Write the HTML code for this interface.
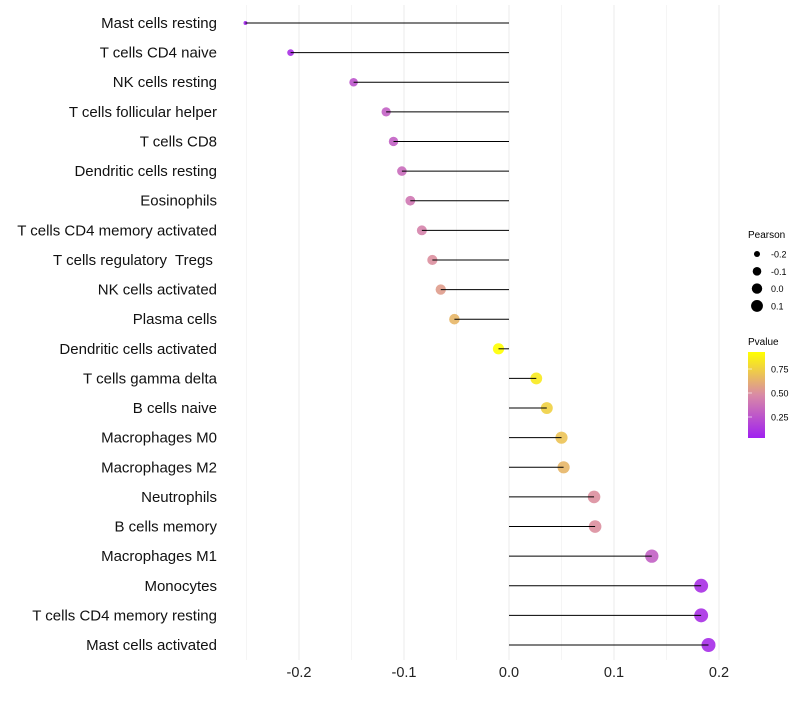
<!DOCTYPE html>
<html><head><meta charset="utf-8"><style>
body{margin:0;background:#fff;font-family:"Liberation Sans",sans-serif}
svg text{font-family:"Liberation Sans",sans-serif;white-space:pre}
</style></head><body>
<svg id="c" width="800" height="700" xmlns="http://www.w3.org/2000/svg">
<defs><linearGradient id="pg" x1="0" y1="1" x2="0" y2="0">
<stop offset="0" stop-color="#a020f0"/><stop offset="0.5" stop-color="#d98aa6"/><stop offset="1" stop-color="#ffff00"/>
</linearGradient></defs>
<g id="grid"></g><g id="marks"></g><g id="stems"></g><g id="labels"></g>
<g>
<text x="748" y="238" font-size="10">Pearson</text>
<g id="sizeleg"></g>
<text x="748" y="345" font-size="10">Pvalue</text>
<rect x="748" y="352" width="17" height="86" fill="url(#pg)"/>
<g id="colleg"></g>
</g>
</svg>
<script>
const categories=["Mast cells resting","T cells CD4 naive","NK cells resting","T cells follicular helper","T cells CD8","Dendritic cells resting","Eosinophils","T cells CD4 memory activated","T cells regulatory  Tregs ","NK cells activated","Plasma cells","Dendritic cells activated","T cells gamma delta","B cells naive","Macrophages M0","Macrophages M2","Neutrophils","B cells memory","Macrophages M1","Monocytes","T cells CD4 memory resting","Mast cells activated"];
const pearson=[-0.251,-0.208,-0.148,-0.117,-0.110,-0.102,-0.094,-0.083,-0.073,-0.065,-0.052,-0.010,0.026,0.036,0.050,0.052,0.081,0.082,0.136,0.183,0.183,0.190];
const pvalue=[0.05,0.1,0.25,0.3,0.3,0.35,0.4,0.45,0.5,0.55,0.65,0.95,0.85,0.75,0.7,0.65,0.5,0.5,0.3,0.1,0.1,0.08];
const xTicks=[-0.2,-0.1,0.0,0.1,0.2];
const xTickLabels=["-0.2","-0.1","0.0","0.1","0.2"];
const sizeLegend=[-0.2,-0.1,0.0,0.1];
const colorLegend=[0.25,0.5,0.75];
const NS="http://www.w3.org/2000/svg";
const x=v=>509+v*1050;
const y=i=>23+i*(622/21);
const r=p=>1.7+5.3*Math.sqrt(Math.max(0,(p+0.252)/0.442));
function lerp(a,b,t){return a.map((v,i)=>Math.round(v+(b[i]-v)*t));}
function col(p){const A=[160,32,240],B=[217,138,166],C=[255,255,0];const t=(p-0.03)/0.9;const c=t<0.5?lerp(A,B,Math.max(0,t)/0.5):lerp(B,C,Math.min(1,(t-0.5)/0.5));return `rgb(${c})`;}
function mk(tag,at,par){const e=document.createElementNS(NS,tag);for(const k in at)e.setAttribute(k,at[k]);document.getElementById(par).appendChild(e);return e;}
const grid=[-0.25,-0.2,-0.15,-0.1,-0.05,0,0.05,0.1,0.15,0.2];
grid.forEach(g=>{const l=mk('line',{x1:x(g),x2:x(g),y1:5,y2:660,stroke:'#ebebeb','stroke-width':Math.abs(g*10-Math.round(g*10))<1e-6?1:0.5},'grid');

});
xTicks.forEach((t,i)=>{const e=mk('text',{x:x(t),y:677,'font-size':14.5,'text-anchor':'middle',fill:'#222'},'labels');e.textContent=xTickLabels[i];

});
categories.forEach((c,i)=>{
const t=mk('text',{x:217,y:y(i)+5,'font-size':15,'text-anchor':'end',fill:'#111'},'labels');t.textContent=c;


const d=mk('circle',{cx:x(pearson[i]),cy:y(i),r:r(pearson[i]),fill:col(pvalue[i]),'fill-opacity':0.9},'marks');


const l=mk('line',{x1:x(0),x2:x(pearson[i]),y1:y(i),y2:y(i),stroke:'#000','stroke-width':1},'stems');

});
sizeLegend.forEach((s,i)=>{const cy=254+i*17.3;const d=mk('circle',{cx:757,cy:cy,r:r(s)-0.5,fill:'#000'},'sizeleg');


const t=mk('text',{x:771,y:cy+3.5,'font-size':9},'sizeleg');t.textContent=s.toFixed(1);

});
colorLegend.forEach(v=>{const cy=441-96*v;const t=mk('text',{x:771,y:cy+3.5,'font-size':9},'colleg');t.textContent=v.toFixed(2);


const l=mk('line',{x1:748,x2:752,y1:cy,y2:cy,stroke:'#fff','stroke-width':0.6},'colleg');

});
</script>
</body></html>
